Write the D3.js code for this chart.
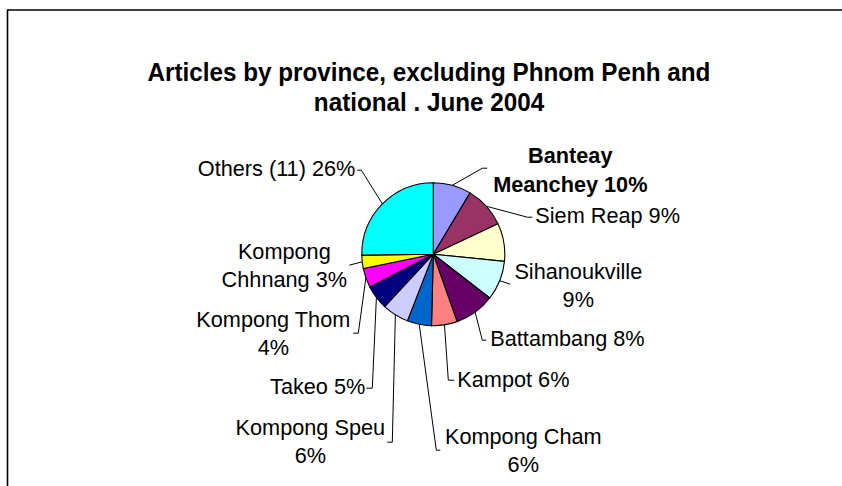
<!DOCTYPE html>
<html>
<head>
<meta charset="utf-8">
<script src="https://cdn.jsdelivr.net/npm/d3@7"></script>
<style>
  html, body { margin: 0; padding: 0; background: #fff; }
  svg { display: block; }
  text { font-family: "Liberation Sans", Arial, sans-serif; fill: #000; }
</style>
</head>
<body>
<svg id="chart" width="842" height="486"></svg>
<script>
// ---- data ----
const titleLines = ["Articles by province, excluding Phnom Penh and", "national . June 2004"];
const provinces = ["Banteay Meanchey", "Siem Reap", "(unlabelled)", "Sihanoukville", "Battambang", "Kampot",
                   "Kompong Cham", "Kompong Speu", "Takeo", "Kompong Thom", "Kompong Chhnang", "Others (11)"];
const shares = [8.6, 9.4, 8.6, 8.9, 9.1, 5.8, 5.5, 6.0, 5.5, 4.4, 3.0, 25.2];
const labelLines = [
  ["Banteay", "Meanchey 10%"],
  ["Siem Reap 9%"],
  [],
  ["Sihanoukville", "9%"],
  ["Battambang 8%"],
  ["Kampot 6%"],
  ["Kompong Cham", "6%"],
  ["Kompong Speu", "6%"],
  ["Takeo 5%"],
  ["Kompong Thom", "4%"],
  ["Kompong", "Chhnang 3%"],
  ["Others (11) 26%"]
];
const sliceColors = ["#9999FF", "#993366", "#FFFFCC", "#CCFFFF", "#660066", "#FF8080",
                     "#0066CC", "#CCCCFF", "#000080", "#FF00FF", "#FFFF00", "#00FFFF"];

// ---- layout (label positions relative to pie centre) ----
const cx = 433.3, cy = 254.2, R = 71.5;
const labelLayout = [
  { x: 137, y: -91, anchor: "middle", bold: true, lead: [[49, -86], [54, -86]] },
  { x: 102, y: -31, anchor: "start", lead: [[94, -37], [99, -37]] },
  null,
  { x: 145, y: 25, anchor: "middle", lead: [[77, 30]] },
  { x: 57, y: 92, anchor: "start", lead: [[49, 86], [53, 86]] },
  { x: 24, y: 133, anchor: "start", lead: [[15, 126], [21, 126]] },
  { x: 90, y: 190, anchor: "middle", lead: [[3, 196], [7, 196]] },
  { x: -123, y: 181, anchor: "middle", lead: [[-41, 188], [-46, 188]] },
  { x: -68, y: 140, anchor: "end", lead: [[-61, 134], [-67, 134]] },
  { x: -160, y: 73, anchor: "middle", lead: [[-75, 79], [-80, 79]] },
  { x: -149, y: 5, anchor: "middle", lead: [[-84, 11]] },
  { x: -78, y: -78, anchor: "end", lead: [[-72, -84], [-76, -84]] }
];
const labelSize = 21.7, lineGap = 28.3;

// ---- drawing ----
const svg = d3.select("#chart");

// frame (only top and left edges visible)
svg.append("path")
  .attr("d", "M7.5,486 L7.5,10 L842,10")
  .attr("fill", "none").attr("stroke", "#000").attr("stroke-width", 1.6);

// title (slightly condensed bold face)
svg.append("g")
  .attr("transform", "translate(429,0) scale(0.94,1)")
  .append("text")
  .attr("x", 0).attr("y", 81)
  .attr("text-anchor", "middle")
  .attr("font-weight", "bold").attr("font-size", 25.8)
  .selectAll("tspan").data(titleLines).join("tspan")
  .attr("x", 0).attr("dy", (d, i) => i === 0 ? 0 : 30)
  .text(d => d);

const pie = d3.pie().sort(null).value(d => d)(shares);
const arc = d3.arc().innerRadius(0).outerRadius(R);

const g = svg.append("g").attr("transform", `translate(${cx},${cy})`);

g.selectAll("path.slice").data(pie).join("path")
  .attr("class", "slice")
  .attr("d", arc)
  .attr("fill", (d, i) => sliceColors[i])
  .attr("stroke", "#000").attr("stroke-width", 1.1)
  .attr("stroke-linejoin", "round");

// leader lines and labels
pie.forEach((d, i) => {
  const L = labelLayout[i];
  if (!L) return;
  const mid = (d.startAngle + d.endAngle) / 2;
  const start = [R * Math.sin(mid), -R * Math.cos(mid)];
  const pts = [start].concat(L.lead);
  g.append("path")
    .attr("d", d3.line()(pts))
    .attr("fill", "none").attr("stroke", "#000").attr("stroke-width", 1);
  const t = g.append("text")
    .attr("x", L.x).attr("y", L.y)
    .attr("text-anchor", L.anchor)
    .attr("font-size", labelSize)
    .attr("font-weight", L.bold ? "bold" : "normal");
  t.selectAll("tspan").data(labelLines[i]).join("tspan")
    .attr("x", L.x).attr("dy", (s, j) => j === 0 ? 0 : lineGap)
    .text(s => s);
});
</script>
</body>
</html>
